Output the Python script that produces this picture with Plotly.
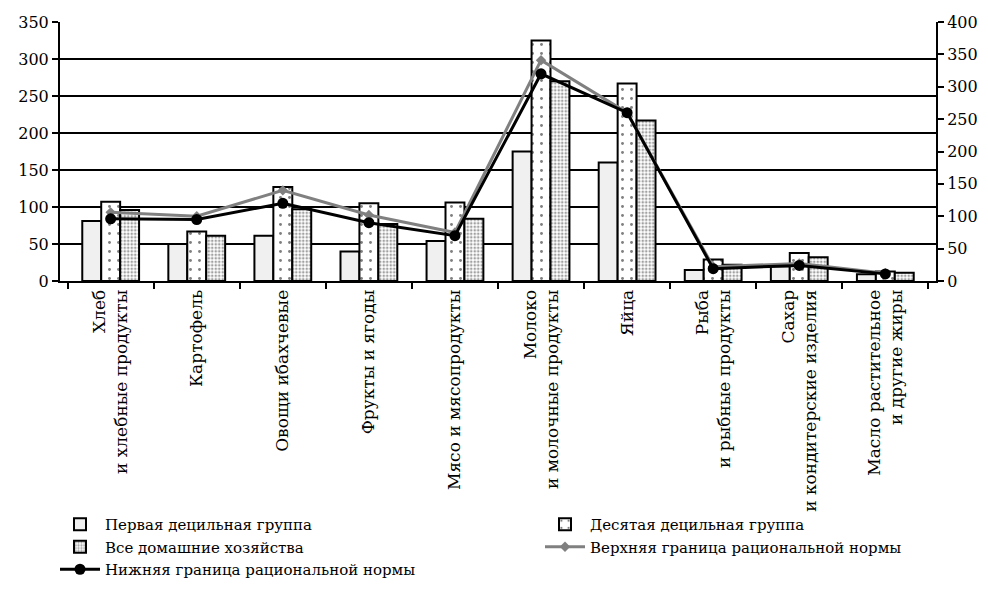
import plotly.graph_objects as go

categories = [
    "Хлеб<br>и хлебные продукты",
    "Картофель",
    "Овощи ибахчевые",
    "Фрукты и ягоды",
    "Мясо и мясопродукты",
    "Молоко<br>и молочные продукты",
    "Яйца",
    "Рыба<br>и рыбные продукты",
    "Сахар<br>и кондитерские изделия",
    "Масло растительное<br>и другие жиры",
]
first_decile = [81, 50, 61, 40, 54, 175, 160, 15, 20, 9]
tenth_decile = [107, 67, 127, 105, 106, 325, 267, 29, 38, 13]
all_households = [96, 61, 97, 77, 84, 270, 217, 22, 32, 11]
upper_norm = [106, 100, 140, 102, 75, 341, 260, 22, 27, 12]
lower_norm = [96, 95, 120, 90, 70, 320, 260, 19, 24, 11]

left_ticks = list(range(0, 351, 50))
right_ticks = list(range(0, 401, 50))

FONT = "DejaVu Serif"

W, H = 980, 583

fig = go.Figure()
fig.add_trace(go.Bar(
    x=categories, y=first_decile, name="Первая децильная группа",
    marker=dict(color="#f0f0f0", line=dict(color="black", width=2)),
    legend="legend",
))
fig.add_trace(go.Bar(
    x=categories, y=tenth_decile, name="Десятая децильная группа",
    marker=dict(color="white", line=dict(color="black", width=2),
                pattern=dict(shape=".", size=9, solidity=0.08,
                             fgcolor="black", bgcolor="white")),
    legend="legend2",
))
fig.add_trace(go.Bar(
    x=categories, y=all_households, name="Все домашние хозяйства",
    marker=dict(color="white", line=dict(color="black", width=2),
                pattern=dict(shape=".", size=3.5, solidity=0.45,
                             fgcolor="#444444", bgcolor="white")),
    legend="legend",
))
fig.add_trace(go.Scatter(
    x=categories, y=upper_norm, name="Верхняя граница рациональной нормы",
    yaxis="y2", mode="lines+markers",
    line=dict(color="#808080", width=3),
    marker=dict(symbol="diamond", size=8, color="#808080"),
    legend="legend2",
))
fig.add_trace(go.Scatter(
    x=categories, y=lower_norm, name="Нижняя граница рациональной нормы",
    yaxis="y2", mode="lines+markers",
    line=dict(color="black", width=3),
    marker=dict(symbol="circle", size=11, color="black"),
    legend="legend",
))

legend_common = dict(
    orientation="v", yref="container", yanchor="top", xref="container",
    xanchor="left", itemwidth=40, font=dict(size=15, family=FONT),
    tracegroupgap=0, bgcolor="rgba(0,0,0,0)", traceorder="normal",
)

fig.update_layout(
    width=W, height=H,
    margin=dict(l=52, r=52, t=14, b=310, autoexpand=False),
    paper_bgcolor="white", plot_bgcolor="white",
    font=dict(family=FONT, size=16, color="black"),
    barmode="group", bargap=0.34, bargroupgap=0,
    xaxis=dict(
        type="category", tickangle=-90, tickson="boundaries",
        ticks="outside", ticklen=6, tickwidth=2, tickcolor="black",
        showline=True, linecolor="black", linewidth=2,
        showgrid=False, tickfont=dict(size=17, family=FONT), automargin=False,
    ),
    yaxis=dict(
        range=[0, 350], tickvals=left_ticks,
        showgrid=True, gridcolor="black", gridwidth=1.5,
        showline=True, linecolor="black", linewidth=2,
        ticks="outside", ticklen=6, tickwidth=2, tickcolor="black",
        zeroline=False, automargin=False, tickfont=dict(size=16, family=FONT),
    ),
    yaxis2=dict(
        range=[0, 400], tickvals=right_ticks, overlaying="y", side="right",
        showgrid=False, showline=True, linecolor="black", linewidth=2,
        ticks="outside", ticklen=6, tickwidth=2, tickcolor="black",
        zeroline=False, automargin=False, tickfont=dict(size=16, family=FONT),
    ),
    legend=dict(legend_common, x=47 / W, y=1 - 500 / H),
    legend2=dict(legend_common, x=532 / W, y=1 - 500 / H),
    showlegend=True,
)

fig.write_html("out.html")
